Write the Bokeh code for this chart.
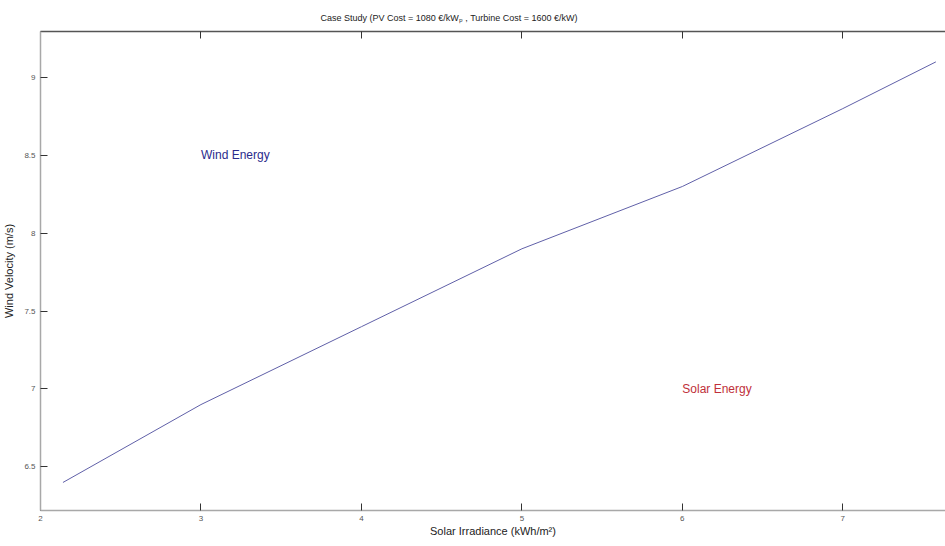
from bokeh.plotting import figure
from bokeh.models import Range1d, LinearAxis, FixedTicker, Title, Label, CustomJSTickFormatter
from bokeh.embed import file_html
from bokeh.resources import INLINE

# Data
solar_irradiance = [2.14, 3.0, 4.0, 5.0, 6.0, 7.0, 7.58]
wind_velocity = [6.40, 6.90, 7.40, 7.90, 8.30, 8.80, 9.10]
x_ticks = [2, 3, 4, 5, 6, 7]
y_ticks = [6.5, 7, 7.5, 8, 8.5, 9]
region_labels = ["Wind Energy", "Solar Energy"]
region_x = [3.0, 6.0]
region_y = [8.5, 7.0]

FONT = "Liberation Sans"

p = figure(width=945, height=546, output_backend="svg", toolbar_location=None,
           x_range=Range1d(2, 7.64), y_range=Range1d(6.22, 9.295),
           min_border_left=40, min_border_right=0, min_border_top=31, min_border_bottom=36)

p.title = Title(text="Case Study (PV Cost = 1080 €/kWₚ , Turbine Cost = 1600 €/kW)",
                align="left", offset=280, standoff=17, text_font=FONT, text_font_size="9px",
                text_font_style="normal", text_color="#222222")

p.line(solar_irradiance, wind_velocity, line_color="#6060a8", line_width=1)

p.grid.visible = False
p.outline_line_color = None
p.background_fill_color = "white"
p.border_fill_color = "white"

for ax in (p.xaxis[0], p.yaxis[0]):
    ax.axis_line_color = "#a8a8a8"
    ax.axis_line_width = 1.5
    ax.major_tick_in = 7
    ax.major_tick_out = 0
    ax.major_tick_line_color = "#333333"
    ax.minor_tick_line_color = None
    ax.major_label_text_font = FONT
    ax.major_label_text_font_size = "8px"
    ax.major_label_text_color = "#555555"
    ax.axis_label_text_font = FONT
    ax.axis_label_text_font_size = "11px"
    ax.axis_label_text_font_style = "normal"
    ax.axis_label_text_color = "#222222"

p.xaxis[0].ticker = FixedTicker(ticks=x_ticks)
p.yaxis[0].ticker = FixedTicker(ticks=y_ticks)
p.xaxis[0].major_label_overrides = {t: str(t) for t in x_ticks}
p.yaxis[0].major_label_overrides = {6.5: "6.5", 7: "7", 7.5: "7.5", 8: "8", 8.5: "8.5", 9: "9"}
p.xaxis[0].axis_label = "Solar Irradiance (kWh/m²)"
p.yaxis[0].axis_label = "Wind Velocity (m/s)"
p.xaxis[0].major_label_standoff = 5
p.xaxis[0].axis_label_standoff = 1
p.yaxis[0].major_label_standoff = 5
p.yaxis[0].axis_label_standoff = 6

top = LinearAxis(ticker=FixedTicker(ticks=x_ticks),
                 formatter=CustomJSTickFormatter(code="return ''"),
                 major_label_text_font_size="8px",
                 axis_line_color="#555555", axis_line_width=1.5,
                 major_tick_in=7, major_tick_out=0, major_tick_line_color="#333333",
                 minor_tick_line_color=None, major_label_standoff=0)
p.add_layout(top, "above")

colors = ["#2b2b8c", "#c0303a"]
for t, xx, yy, c in zip(region_labels, region_x, region_y, colors):
    p.add_layout(Label(x=xx, y=yy, text=t, text_font=FONT,
                       text_font_size="12px", text_color=c,
                       text_align="left", text_baseline="middle"))

open("out.html", "w").write(file_html(p, INLINE))
